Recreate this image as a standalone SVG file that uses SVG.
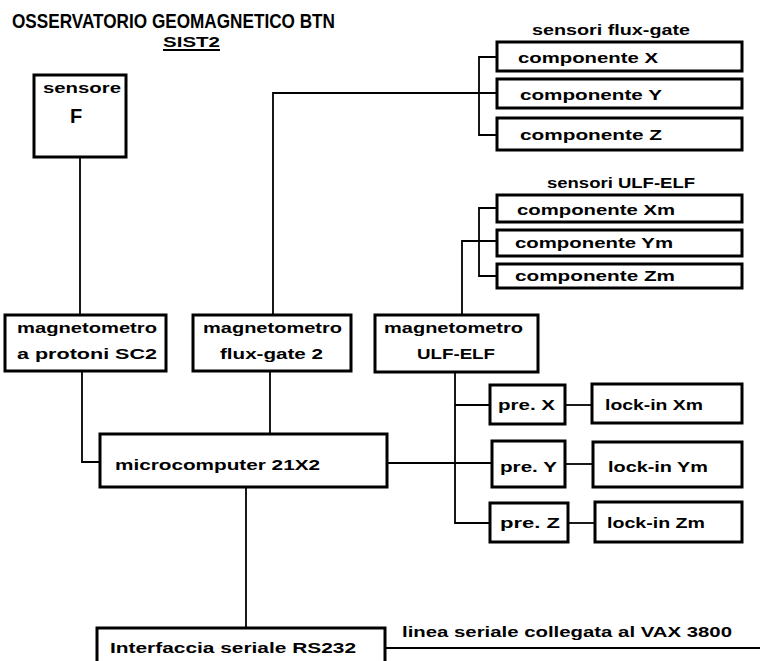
<svg xmlns="http://www.w3.org/2000/svg" width="760" height="661" viewBox="0 0 760 661">
<style>
.box{fill:#fff;stroke:#000;stroke-width:3}
.ln{fill:none;stroke:#000;stroke-width:1.8}
text{font-family:"Liberation Sans",Arial,sans-serif;font-weight:bold;fill:#000;font-size:15px}
.big{font-size:20px}
</style>
<rect width="760" height="661" fill="#fff"/>
<g id="title">
<text class="big" x="12" y="28" textLength="323" lengthAdjust="spacingAndGlyphs">OSSERVATORIO GEOMAGNETICO BTN</text>
<text x="163" y="47" font-size="17" textLength="57" lengthAdjust="spacingAndGlyphs">SIST2</text>
<line x1="163" y1="50" x2="220" y2="50" stroke="#000" stroke-width="2"/>
</g>
<g id="connectors">
<polyline class="ln" points="80,157 80,315"/>
<polyline class="ln" points="82,371 82,462 100,462"/>
<polyline class="ln" points="273,315 273,93 497,93"/>
<polyline class="ln" points="497,57 479,57 479,135 497,135"/>
<polyline class="ln" points="270,371 270,433"/>
<polyline class="ln" points="462,315 462,241 497,241"/>
<polyline class="ln" points="497,208 479,208 479,276 497,276"/>
<polyline class="ln" points="455,372 455,523 490,523"/>
<polyline class="ln" points="455,405 490,405"/>
<polyline class="ln" points="387,463 492,463"/>
<polyline class="ln" points="565,405 592,405"/>
<polyline class="ln" points="565,464 593,464"/>
<polyline class="ln" points="568,523 595,523"/>
<polyline class="ln" points="246,487 246,628"/>
<polyline class="ln" points="385,648 760,648"/>
</g>
<g id="sensoreF">
<rect class="box" x="34" y="75" width="92" height="82"/>
<text x="43" y="93" textLength="78" lengthAdjust="spacingAndGlyphs">sensore</text>
<text class="big" x="70" y="123">F</text>
</g>
<g id="fluxlabel"><text x="532" y="35" textLength="158" lengthAdjust="spacingAndGlyphs">sensori flux-gate</text></g>
<g id="compX">
<rect class="box" x="497" y="42" width="245" height="29"/>
<text x="518" y="63" textLength="140" lengthAdjust="spacingAndGlyphs">componente  X</text>
</g>
<g id="compY">
<rect class="box" x="497" y="79" width="245" height="29"/>
<text x="520" y="100" textLength="142" lengthAdjust="spacingAndGlyphs">componente  Y</text>
</g>
<g id="compZ">
<rect class="box" x="497" y="118" width="245" height="32"/>
<text x="520" y="140" textLength="142" lengthAdjust="spacingAndGlyphs">componente  Z</text>
</g>
<g id="ulflabel"><text x="547" y="188" textLength="148" lengthAdjust="spacingAndGlyphs">sensori ULF-ELF</text></g>
<g id="compXm">
<rect class="box" x="497" y="195" width="245" height="27"/>
<text x="517" y="215" textLength="158" lengthAdjust="spacingAndGlyphs">componente  Xm</text>
</g>
<g id="compYm">
<rect class="box" x="497" y="230" width="245" height="26"/>
<text x="515" y="248" textLength="158" lengthAdjust="spacingAndGlyphs">componente  Ym</text>
</g>
<g id="compZm">
<rect class="box" x="497" y="264" width="245" height="24"/>
<text x="515" y="281" textLength="160" lengthAdjust="spacingAndGlyphs">componente  Zm</text>
</g>
<g id="magSC2">
<rect class="box" x="5" y="315" width="161" height="56"/>
<text x="17" y="333" textLength="140" lengthAdjust="spacingAndGlyphs">magnetometro</text>
<text x="17" y="359" textLength="140" lengthAdjust="spacingAndGlyphs">a protoni   SC2</text>
</g>
<g id="magFG">
<rect class="box" x="193" y="315" width="158" height="56"/>
<text x="203" y="333" textLength="139" lengthAdjust="spacingAndGlyphs">magnetometro</text>
<text x="220" y="359" textLength="103" lengthAdjust="spacingAndGlyphs">flux-gate 2</text>
</g>
<g id="magULF">
<rect class="box" x="375" y="315" width="163" height="57"/>
<text x="384" y="333" textLength="139" lengthAdjust="spacingAndGlyphs">magnetometro</text>
<text x="417" y="359" textLength="78" lengthAdjust="spacingAndGlyphs">ULF-ELF</text>
</g>
<g id="micro">
<rect class="box" x="100" y="434" width="287" height="53"/>
<text x="115" y="470" textLength="205" lengthAdjust="spacingAndGlyphs">microcomputer  21X2</text>
</g>
<g id="preX">
<rect class="box" x="490" y="385" width="75" height="39"/>
<text x="498" y="410" textLength="57" lengthAdjust="spacingAndGlyphs">pre. X</text>
</g>
<g id="lockX">
<rect class="box" x="592" y="384" width="150" height="39"/>
<text x="605" y="410" textLength="98" lengthAdjust="spacingAndGlyphs">lock-in Xm</text>
</g>
<g id="preY">
<rect class="box" x="492" y="441" width="73" height="46"/>
<text x="500" y="472" textLength="57" lengthAdjust="spacingAndGlyphs">pre. Y</text>
</g>
<g id="lockY">
<rect class="box" x="593" y="442" width="149" height="45"/>
<text x="608" y="472" textLength="100" lengthAdjust="spacingAndGlyphs">lock-in Ym</text>
</g>
<g id="preZ">
<rect class="box" x="490" y="503" width="78" height="39"/>
<text x="500" y="528" textLength="60" lengthAdjust="spacingAndGlyphs">pre. Z</text>
</g>
<g id="lockZ">
<rect class="box" x="595" y="502" width="147" height="40"/>
<text x="607" y="528" textLength="98" lengthAdjust="spacingAndGlyphs">lock-in Zm</text>
</g>
<g id="rs232">
<rect class="box" x="97" y="628" width="288" height="40"/>
<text x="110" y="653" textLength="246" lengthAdjust="spacingAndGlyphs">Interfaccia seriale RS232</text>
</g>
<g id="vaxlabel"><text x="402" y="637" textLength="330" lengthAdjust="spacingAndGlyphs">linea seriale collegata al VAX 3800</text></g>
</svg>
